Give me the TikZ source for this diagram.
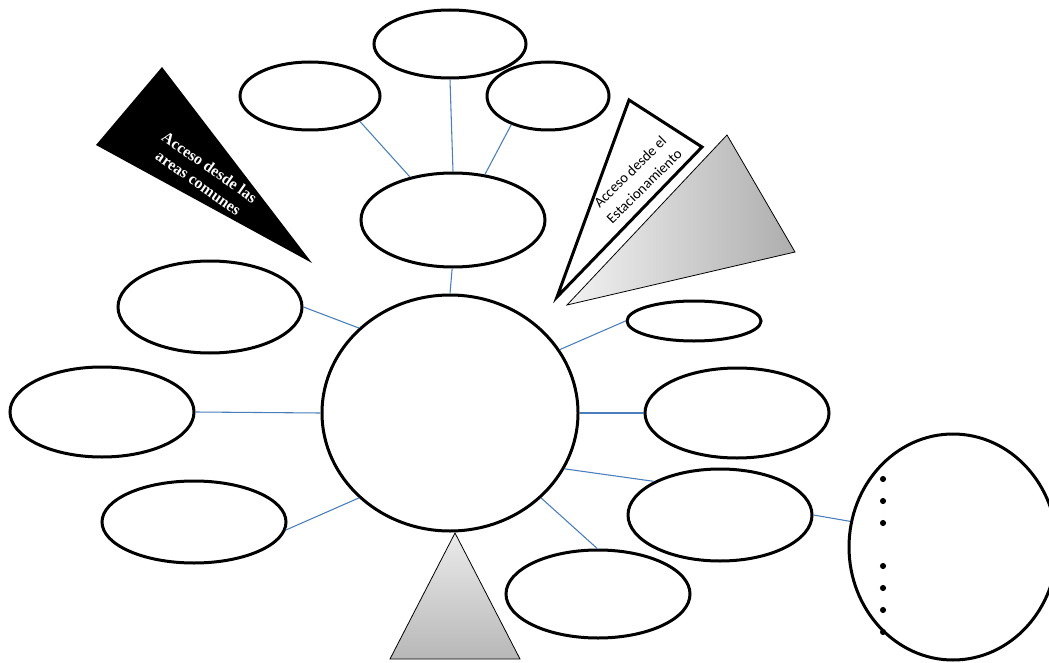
\documentclass[tikz,border=0pt]{standalone}
\usepackage{fontspec}
\newfontfamily\timesfont{Liberation Serif}
\newfontfamily\calibrifont{Carlito}
\usetikzlibrary{shapes.geometric}
\definecolor{linkblue}{HTML}{4A7EBB}

\begin{document}
\begin{tikzpicture}[
  x=0.75pt, y=-0.75pt,
  bubble/.style 2 args={ellipse, draw, line width=2.25pt, fill=white, inner sep=0pt,
    minimum width=1.5*#1pt, minimum height=1.5*#2pt},
  link/.style={draw=linkblue, line width=0.8pt},
  wedge/.style={draw, line width=0.6pt},
  every node/.style={align=center}]

\useasboundingbox (0,0) rectangle (1049,663);
\clip (0,0) rectangle (1049,663);

% The access wedges and the grey pointers
\fill (162,67) -- (96,145) -- (312,263) -- cycle;
\node[text=white, font=\timesfont\bfseries\fontsize{12}{14.5}\selectfont, rotate=-35]
  (commonAccess) at (204,175) {Acceso desde las\\areas comunes};

\draw[wedge, left color=black!5, right color=black!32] (727,135) -- (795,252) -- (567,305) -- cycle;
\draw[line width=2.25pt, fill=white, line join=miter] (629,100) -- (702,147) -- (557,297) -- cycle;
\node[font=\calibrifont\fontsize{11}{15}\selectfont, rotate=44.5]
  (parkingAccess) at (637,179) {Acceso desde el\\Estacionamiento};

\draw[wedge, top color=black!8, bottom color=black!28] (455,533) -- (390,659) -- (520,659) -- cycle;

% Position the bubbles at their coordinates
\node[bubble={128}{118}] (centre) at (450,413) {};
\node[bubble={92}{47}] (upper) at (453,220) {};
\node[bubble={76}{34}] (topMid) at (450,44) {};
\node[bubble={70}{34}] (topLeft) at (310,96) {};
\node[bubble={61}{34}] (topRight) at (548,96) {};
\node[bubble={92}{46}] (leftHigh) at (210,307) {};
\node[bubble={92}{45}] (leftMid) at (102,412) {};
\node[bubble={92}{41}] (leftLow) at (194,522) {};
\node[bubble={67}{20}] (rightSmall) at (694,321) {};
\node[bubble={92}{45}] (rightMid) at (737,413) {};
\node[bubble={92}{46}] (rightLow) at (720,515) {};
\node[bubble={92}{44}] (bottomRight) at (598,594) {};
\node[bubble={104}{113}] (outer) at (953,547) {};

\foreach \y in {479,501,523,566,588,610,632}
  \fill (883,\y) circle[radius=2.3pt];

% Draw the links between the bubbles
\draw[link] (topLeft.-27) -- (upper.135);
\draw[link] (topMid.-90) -- (upper.90);
\draw[link] (topRight.-142) -- (upper.55);
\draw[link] (upper.-91) -- (centre.90);
\draw[link] (leftHigh.0) -- (centre.137);
\draw[link] (leftMid.0) -- (centre.180);
\draw[link] (leftLow.-5) -- (centre.-137);
\draw[link] (centre.30) -- (rightSmall.180);
\draw[link] (centre.0) -- (rightMid.180);
\draw[link] (centre.-26) -- (rightLow.153);
\draw[link] (centre.-43) -- (bottomRight.91);
\draw[link] (rightLow.0) -- (outer.166);

\end{tikzpicture}
\end{document}
